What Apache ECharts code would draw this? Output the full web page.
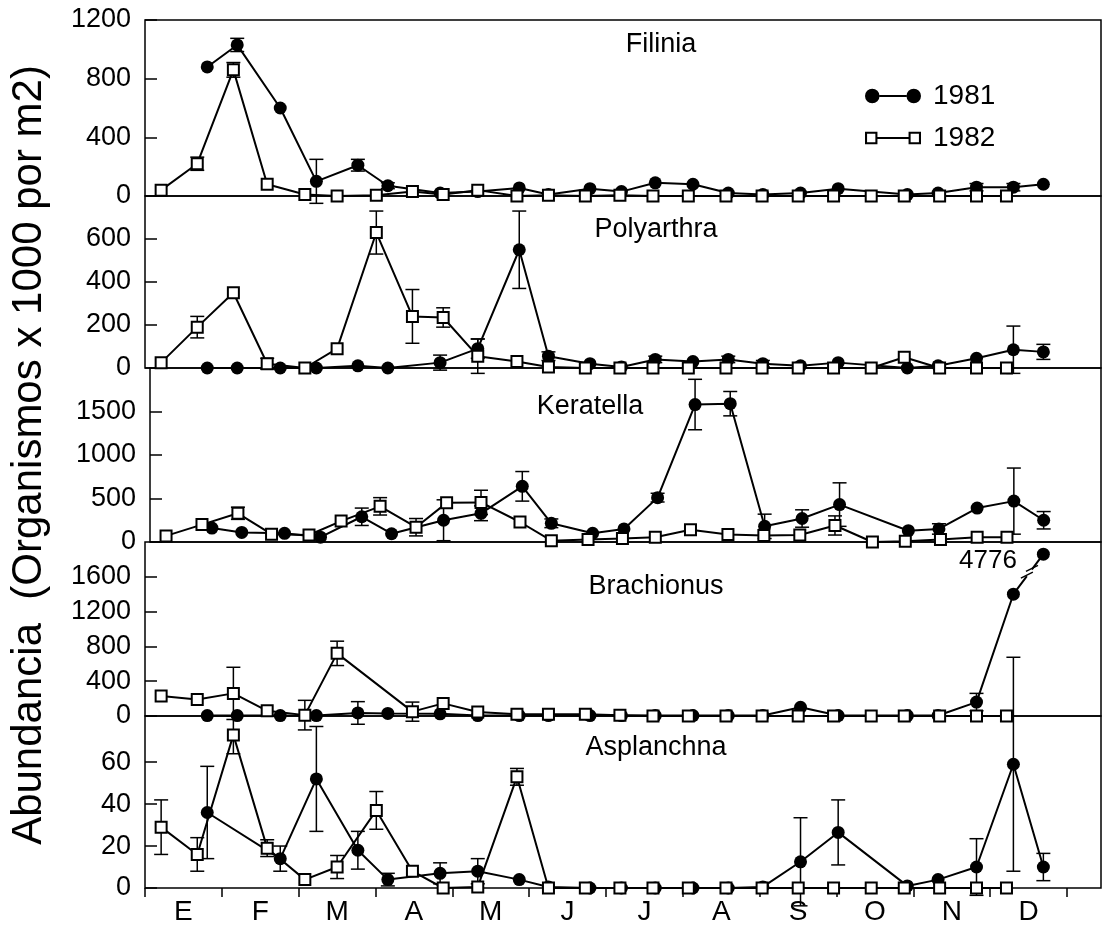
<!DOCTYPE html>
<html>
<head>
<meta charset="utf-8">
<title>Abundancia de rotíferos 1981-1982</title>
<script src="https://cdn.jsdelivr.net/npm/echarts@6/dist/echarts.min.js"></script>
<style>
  html, body { margin: 0; padding: 0; background: #fff; }
  #chart { width: 1104px; height: 929px; }
</style>
</head>
<body>
<div id="chart"></div>
<script>
// eje x: meses
const months = ['E', 'F', 'M', 'A', 'M', 'J', 'J', 'A', 'S', 'O', 'N', 'D'];
const panelNames = ['Filinia', 'Polyarthra', 'Keratella', 'Brachionus', 'Asplanchna'];
const yTitle = 'Abundancia  (Organismos x 1000 por m2)';

// fecha de cada muestreo, en meses desde el 1 de enero
const dates1981 = [0.81, 1.20, 1.76, 2.23, 2.77, 3.16, 3.84, 4.33, 4.87, 5.25, 5.79, 6.20,
                   6.64, 7.13, 7.59, 8.04, 8.53, 9.02, 9.92, 10.32, 10.82, 11.30, 11.69];
const dates1982 = [0.21, 0.68, 1.15, 1.59, 2.08, 2.50, 3.01, 3.48, 3.88, 4.33, 4.84, 5.25, 5.73,
                   6.18, 6.61, 7.07, 7.56, 8.03, 8.50, 8.96, 9.45, 9.88, 10.34, 10.82, 11.21];

// Filinia
const filinia1981 = [880, 1030, 600, 100, 210, 70, 20, 30, 55, 10, 50, 30, 90, 80, 20, 10, 20, 50, 10, 20, 60, 60, 80];
const filinia1981Err = [0, 45, 0, 150, 40, 20, 0, 0, 0, 0, 0, 0, 0, 0, 0, 0, 0, 0, 0, 0, 25, 25, 0];
const filinia1982 = [40, 220, 860, 80, 10, 0, 5, 30, 10, 40, 0, 5, 0, 5, 0, 0, 0, 0, 0, 0, 0, 0, 0, 0, 0];
const filinia1982Err = [0, 45, 50, 0, 0, 0, 0, 0, 0, 0, 0, 0, 0, 0, 0, 0, 0, 0, 0, 0, 0, 0, 0, 0, 0];

// Polyarthra
const polyarthra1981 = [0, 0, 0, 0, 10, 0, 25, 90, 550, 55, 20, 5, 40, 30, 40, 20, 10, 25, 0, 10, 45, 85, 75];
const polyarthra1981Err = [0, 0, 0, 0, 0, 0, 35, 45, 180, 20, 0, 0, 15, 0, 15, 15, 0, 0, 0, 0, 0, 110, 35];
const polyarthra1982 = [25, 190, 350, 20, 0, 90, 630, 240, 235, 55, 30, 5, 0, 0, 0, 0, 0, 0, 0, 0, 0, 50, 0, 0, 0];
const polyarthra1982Err = [0, 50, 0, 25, 0, 0, 100, 125, 45, 80, 0, 0, 0, 0, 0, 0, 0, 0, 0, 0, 0, 0, 0, 0, 0];

// Keratella
const keratella1981 = [160, 110, 100, 55, 290, 95, 250, 330, 640, 215, 100, 150, 510, 1580, 1590, 180, 270, 430, 130, 150, 390, 470, 250];
const keratella1981Err = [0, 0, 0, 0, 100, 0, 235, 85, 170, 50, 0, 0, 50, 290, 140, 140, 100, 250, 0, 60, 0, 380, 100];
const keratella1982 = [70, 200, 330, 90, 80, 240, 410, 170, 450, 455, 230, 15, 30, 40, 55, 140, 85, 75, 80, 190, 0, 10, 30, 55, 55];
const keratella1982Err = [0, 0, 70, 0, 0, 0, 100, 100, 0, 140, 0, 0, 0, 0, 0, 0, 0, 0, 0, 110, 0, 0, 0, 0, 0];

// Brachionus (el último valor de 1981 se sale de la escala)
const brachionus1981 = [5, 5, 5, 5, 35, 30, 25, 5, 5, 5, 5, 5, 5, 5, 5, 5, 100, 5, 5, 5, 160, 1400, 4776];
const brachionus1981Err = [0, 0, 0, 0, 130, 0, 0, 0, 0, 0, 0, 0, 0, 0, 0, 0, 0, 0, 0, 0, 100, 0, 0];
const brachionus1982 = [230, 190, 260, 60, 10, 720, null, 50, 145, 45, 20, 20, 20, 10, 0, 0, 0, 0, 0, 0, 0, 0, 0, 0, 0];
const brachionus1982Err = [0, 0, 300, 0, 170, 140, 0, 110, 0, 0, 0, 0, 0, 0, 0, 0, 0, 0, 0, 0, 0, 0, 0, 0, 0];

// Asplanchna
const asplanchna1981 = [36, null, 14, 52, 18, 4, 7, 8, 4, 0.5, 0, 0, 0, 0, 0, 0.5, 12.5, 26.5, 1, 4, 10, 59, 10];
const asplanchna1981Err = [22, 0, 6, 25, 9, 3, 5, 6, 0, 0, 0, 0, 0, 0, 0, 0, 21, 15.5, 0, 0, 13.5, 51, 6.5];
const asplanchna1982 = [29, 16, 73, 19, 4, 10, 37, 8, 0, 0.5, 53, 0, 0, 0, 0, 0, 0, 0, 0, 0, 0, 0, 0, 0, 0];
const asplanchna1982Err = [13, 8, 9, 4, 0, 5.5, 9, 0, 0, 0, 4, 0, 0, 0, 0, 0, 0, 0, 0, 0, 0, 0, 0, 0, 0];

// escalas y marcas del eje y de cada panel
const panelMax = [1200, 800, 2000, 2000, 82];
const filiniaTicks = [0, 400, 800, 1200];
const polyarthraTicks = [0, 200, 400, 600];
const keratellaTicks = [0, 500, 1000, 1500];
const brachionusTicks = [0, 400, 800, 1200, 1600];
const asplanchnaTicks = [0, 20, 40, 60];

// valores fuera de escala se dibujan en este tope
const brachionusCap = 1860;

const panels = [
    [filinia1981, filinia1981Err, filinia1982, filinia1982Err, filiniaTicks],
    [polyarthra1981, polyarthra1981Err, polyarthra1982, polyarthra1982Err, polyarthraTicks],
    [keratella1981, keratella1981Err, keratella1982, keratella1982Err, keratellaTicks],
    [brachionus1981, brachionus1981Err, brachionus1982, brachionus1982Err, brachionusTicks],
    [asplanchna1981, asplanchna1981Err, asplanchna1982, asplanchna1982Err, asplanchnaTicks]
];

// layout
const FONT = 'Liberation Sans';
const panelTop = [20, 196, 368, 542, 716];
const panelHeight = [176, 172, 174, 174, 172];
const titlePos = [[661, 45], [656, 230], [590, 407], [656, 587], [656, 748]];
const X_MAX = 12.44;

const ICON_1981 = 'path://M1,8A7,7,0,1,1,15,8A7,7,0,1,1,1,8ZM15,7L41,7L41,9L15,9ZM41,8A7,7,0,1,1,55,8A7,7,0,1,1,41,8Z';
const ICON_1982 = 'path://M1,2L13,2L13,14L1,14ZM3,4L3,12L11,12L11,4ZM13,7L43,7L43,9L13,9ZM43,2L55,2L55,14L43,14ZM45,4L45,12L53,12L53,4Z';

function points(dates, values, cap) {
    const out = [];
    values.forEach((v, k) => {
        if (v === null) return;
        const shown = cap ? Math.min(v, cap) : v;
        const item = { value: [dates[k], shown] };
        if (shown !== v) {
            item.label = {
                show: true, position: 'left', distance: 20, offset: [0, 7],
                fontSize: 26, fontFamily: FONT, color: '#000', formatter: String(v)
            };
        }
        out.push(item);
    });
    return out;
}

function errorPoints(dates, values, errs) {
    const out = [];
    values.forEach((v, k) => {
        if (v !== null && errs[k] > 0) out.push([dates[k], v, errs[k]]);
    });
    return out;
}

function renderError(params, api) {
    const x = api.value(0), v = api.value(1), e = api.value(2);
    const hi = api.coord([x, v + e]);
    const lo = api.coord([x, v - e]);
    const w = 7;
    const st = { stroke: '#000', lineWidth: 1.5 };
    return {
        type: 'group',
        children: [
            { type: 'line', shape: { x1: hi[0], y1: hi[1], x2: lo[0], y2: lo[1] }, style: st },
            { type: 'line', shape: { x1: hi[0] - w, y1: hi[1], x2: hi[0] + w, y2: hi[1] }, style: st },
            { type: 'line', shape: { x1: lo[0] - w, y1: lo[1], x2: lo[0] + w, y2: lo[1] }, style: st }
        ]
    };
}

// marca de corte en el tramo que sube al valor fuera de escala
function renderBreak(params, api) {
    const a = api.coord([api.value(0), api.value(1)]);
    const b = api.coord([api.value(2), api.value(3)]);
    const dx = b[0] - a[0], dy = b[1] - a[1];
    const p1 = [a[0] + dx * 0.45, a[1] + dy * 0.45];
    const p2 = [a[0] + dx * 0.62, a[1] + dy * 0.62];
    const h = 6;
    const st = { stroke: '#000', lineWidth: 1.5 };
    return {
        type: 'group',
        children: [
            { type: 'line', shape: { x1: p1[0], y1: p1[1], x2: p2[0], y2: p2[1] }, style: { stroke: '#fff', lineWidth: 5 } },
            { type: 'line', shape: { x1: p1[0] - h, y1: p1[1] + 2, x2: p1[0] + h, y2: p1[1] - 4 }, style: st },
            { type: 'line', shape: { x1: p2[0] - h, y1: p2[1] + 2, x2: p2[0] + h, y2: p2[1] - 4 }, style: st }
        ]
    };
}

const grids = [], xAxes = [], yAxes = [], series = [], graphics = [];

panels.forEach((p, i) => {
    const [v81, e81, v82, e82, ticks] = p;
    grids.push({
        left: 145, right: 3, top: panelTop[i], height: panelHeight[i],
        show: true, borderColor: '#000', borderWidth: 1.5, backgroundColor: 'transparent'
    });
    xAxes.push({ gridIndex: i, type: 'value', min: 0, max: X_MAX, show: false });
    const yAxis = {
        gridIndex: i, type: 'value', min: 0, max: panelMax[i],
        axisLine: { show: false },
        splitLine: { show: false },
        axisTick: { show: true, inside: true, length: 12, customValues: ticks, lineStyle: { color: '#000', width: 1.5 } },
        axisLabel: {
            customValues: ticks, fontSize: 27, fontFamily: FONT, color: '#000', margin: 14,
            formatter: v => String(v)
        }
    };
    if (i === 2) {
        yAxis.name = yTitle;
        yAxis.nameLocation = 'middle';
        yAxis.nameRotate = 90;
        yAxis.nameGap = 100;
        yAxis.nameTextStyle = { fontSize: 42, fontFamily: FONT, color: '#000' };
    }
    yAxes.push(yAxis);

    const cap = i === 3 ? brachionusCap : 0;
    series.push(
        { type: 'custom', xAxisIndex: i, yAxisIndex: i, renderItem: renderError, data: errorPoints(dates1981, v81, e81), z: 1, silent: true },
        { type: 'custom', xAxisIndex: i, yAxisIndex: i, renderItem: renderError, data: errorPoints(dates1982, v82, e82), z: 1, silent: true },
        {
            name: '1981', type: 'line', xAxisIndex: i, yAxisIndex: i, z: 2,
            data: points(dates1981, v81, cap),
            symbol: 'circle', symbolSize: 13,
            itemStyle: { color: '#000' },
            lineStyle: { color: '#000', width: 2 },
            label: { show: false }
        },
        {
            name: '1982', type: 'line', xAxisIndex: i, yAxisIndex: i, z: 3,
            data: points(dates1982, v82, 0),
            symbol: 'rect', symbolSize: 11,
            itemStyle: { color: '#fff', borderColor: '#000', borderWidth: 2 },
            lineStyle: { color: '#000', width: 2 }
        }
    );

    graphics.push({
        type: 'text', x: titlePos[i][0], y: titlePos[i][1],
        style: { text: panelNames[i], fontSize: 27, fontFamily: FONT, fill: '#000', align: 'center', verticalAlign: 'middle' }
    });
});

// corte en Brachionus 1981
const nB = brachionus1981.length;
series.push({
    type: 'custom', xAxisIndex: 3, yAxisIndex: 3, renderItem: renderBreak, z: 5, silent: true,
    data: [[dates1981[nB - 2], brachionus1981[nB - 2], dates1981[nB - 1], Math.min(brachionus1981[nB - 1], brachionusCap)]]
});

// eje de meses (cuadrícula auxiliar de 12 meses)
grids.push({ left: 145, width: 922, top: 880, height: 8, show: false });
xAxes.push({
    gridIndex: 5, type: 'category', data: months, position: 'bottom', offset: 15, boundaryGap: true,
    axisLine: { show: false },
    axisTick: { show: true, length: 9, lineStyle: { color: '#000', width: 1.5 } },
    axisLabel: { interval: 0, fontSize: 28, fontFamily: FONT, color: '#000', margin: 9, verticalAlign: 'middle' }
});
yAxes.push({ gridIndex: 5, show: false });

const chart = echarts.init(document.getElementById('chart'));
chart.setOption({
    animation: false,
    backgroundColor: '#fff',
    grid: grids,
    xAxis: xAxes,
    yAxis: yAxes,
    legend: {
        orient: 'vertical', left: 860, top: 77,
        itemWidth: 56, itemHeight: 16, itemGap: 14,
        selectedMode: false,
        textStyle: { fontSize: 28, fontFamily: FONT, color: '#000', padding: [0, 0, 0, 7] },
        data: [
            { name: '1981', icon: ICON_1981, itemStyle: { color: '#000', borderWidth: 0 } },
            { name: '1982', icon: ICON_1982, itemStyle: { color: '#000', borderWidth: 0 } }
        ]
    },
    graphic: graphics,
    series: series
});
</script>
</body>
</html>
